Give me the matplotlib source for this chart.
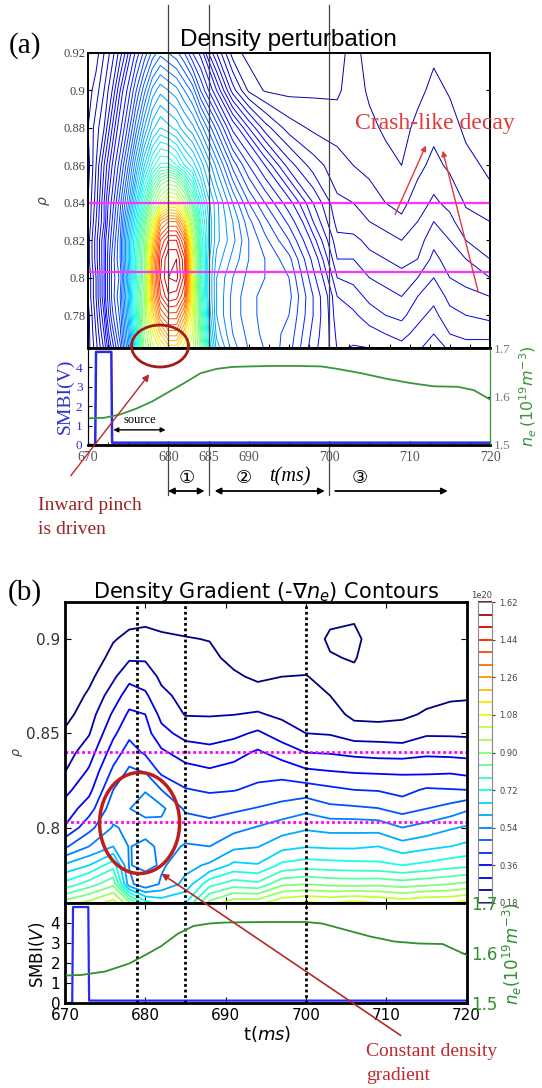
import numpy as np
import matplotlib
matplotlib.use('Agg')
import matplotlib.pyplot as plt
from matplotlib.patches import Ellipse, FancyArrowPatch
from matplotlib.transforms import blended_transform_factory

# ---------------- panel (a): density perturbation (arb. units) ----------------
ta = [670, 671, 672, 673, 674, 675, 676, 677, 678, 679, 680, 681, 682, 683, 684, 685, 686,
      688, 690, 692, 695, 698, 701, 703, 705, 707, 709, 711, 713, 715, 717, 720]
rho_a = [0.76, 0.77, 0.78, 0.79, 0.80, 0.81, 0.82, 0.83, 0.84, 0.86, 0.88, 0.90, 0.92]
# one list per time column, values from rho=0.76 up to 0.92
pert_cols = [
    [.035, .035, .035, .04, .04, .045, .045, .04, .04, .035, .04, .035, .03],
    [.055, .06, .065, .07, .07, .075, .075, .07, .065, .06, .055, .045, .035],
    [.08, .09, .10, .11, .11, .11, .11, .10, .10, .09, .07, .06, .05],
    [.12, .14, .16, .17, .17, .17, .16, .15, .14, .12, .10, .08, .065],
    [.17, .19, .20, .21, .20, .21, .21, .20, .19, .16, .13, .11, .085],
    [.25, .27, .29, .30, .29, .30, .30, .28, .25, .21, .17, .14, .11],
    [.36, .38, .40, .41, .40, .40, .39, .36, .33, .27, .22, .18, .14],
    [.50, .52, .53, .52, .50, .50, .49, .46, .41, .33, .27, .22, .17],
    [.58, .62, .68, .73, .75, .73, .68, .60, .50, .38, .31, .26, .20],
    [.62, .70, .80, .87, .90, .89, .85, .76, .58, .41, .33, .28, .22],
    [.66, .76, .84, .92, .95, .95, .90, .80, .64, .41, .32, .27, .21],
    [.66, .76, .84, .91, .96, .95, .90, .80, .63, .39, .31, .26, .20],
    [.62, .68, .76, .85, .89, .88, .82, .70, .55, .36, .29, .24, .18],
    [.58, .60, .62, .63, .62, .61, .58, .52, .45, .34, .275, .22, .15],
    [.50, .47, .45, .43, .42, .42, .41, .39, .37, .31, .25, .18, .13],
    [.37, .35, .33, .32, .32, .32, .33, .33, .32, .28, .22, .15, .10],
    [.30, .28, .27, .27, .27, .28, .29, .29, .29, .25, .19, .12, .08],
    [.25, .24, .235, .235, .24, .25, .26, .255, .24, .19, .13, .075, .045],
    [.225, .22, .215, .215, .22, .225, .225, .215, .195, .15, .10, .048, .036],
    [.21, .205, .205, .205, .21, .21, .20, .185, .165, .12, .075, .039, .034],
    [.185, .19, .195, .20, .195, .185, .165, .145, .125, .085, .055, .037, .033],
    [.14, .145, .15, .15, .14, .13, .115, .10, .09, .065, .048, .038, .034],
    [.11, .107, .103, .10, .09, .08, .073, .066, .062, .054, .046, .038, .035],
    [.112, .107, .102, .095, .087, .08, .073, .064, .06, .05, .048, .046, .045],
    [.112, .104, .095, .087, .08, .073, .067, .06, .055, .047, .043, .038, .034],
    [.11, .10, .09, .083, .077, .07, .063, .057, .05, .044, .038, .035, .032],
    [.105, .097, .087, .08, .073, .067, .06, .052, .047, .04, .036, .034, .032],
    [.11, .103, .097, .09, .08, .07, .065, .06, .055, .047, .043, .037, .034],
    [.113, .11, .103, .097, .09, .083, .077, .07, .062, .053, .047, .043, .038],
    [.11, .10, .093, .087, .08, .075, .07, .063, .057, .048, .044, .039, .035],
    [.107, .097, .09, .083, .077, .07, .06, .053, .049, .043, .038, .035, .033],
    [.107, .097, .087, .08, .07, .06, .053, .05, .043, .038, .036, .034, .032],
]

# ---------------- panel (b): -grad n_e (1e20 m^-4) ----------------
tb = [670, 673, 676, 678, 680, 682, 685, 688, 691, 694, 697, 700, 703, 706, 709, 712, 715, 718, 720]
rho_b = [0.76, 0.77, 0.78, 0.79, 0.80, 0.81, 0.82, 0.83, 0.84, 0.85, 0.86, 0.87, 0.88, 0.89, 0.90, 0.91, 0.92]
grad_cols = [
    [0.93, 0.74, 0.61, 0.47, 0.365, 0.324, 0.283, 0.238, 0.213, 0.189, 0.16, 0.14, 0.13, 0.12, 0.11, 0.10, 0.10],
    [0.98, 0.81, 0.66, 0.54, 0.46, 0.393, 0.342, 0.308, 0.271, 0.236, 0.213, 0.19, 0.165, 0.14, 0.12, 0.11, 0.10],
    [1.05, 0.885, 0.756, 0.60, 0.545, 0.515, 0.48, 0.432, 0.388, 0.347, 0.309, 0.268, 0.23, 0.20, 0.175, 0.15, 0.13],
    [0.92, 0.56, 0.535, 0.536, 0.53, 0.538, 0.51, 0.49, 0.447, 0.405, 0.371, 0.33, 0.282, 0.232, 0.195, 0.165, 0.14],
    [0.75, 0.49, 0.565, 0.565, 0.50, 0.575, 0.535, 0.475, 0.41, 0.384, 0.36, 0.31, 0.27, 0.233, 0.198, 0.17, 0.145],
    [0.70, 0.55, 0.53, 0.52, 0.52, 0.555, 0.48, 0.404, 0.37, 0.32, 0.282, 0.253, 0.229, 0.209, 0.189, 0.165, 0.14],
    [0.72, 0.62, 0.58, 0.545, 0.515, 0.47, 0.424, 0.381, 0.332, 0.278, 0.237, 0.223, 0.21, 0.197, 0.183, 0.16, 0.14],
    [0.92, 0.76, 0.61, 0.54, 0.50, 0.46, 0.412, 0.367, 0.319, 0.272, 0.236, 0.222, 0.207, 0.193, 0.178, 0.155, 0.135],
    [1.00, 0.81, 0.675, 0.585, 0.52, 0.47, 0.417, 0.381, 0.337, 0.284, 0.239, 0.214, 0.189, 0.165, 0.15, 0.135, 0.12],
    [1.00, 0.795, 0.665, 0.597, 0.544, 0.484, 0.434, 0.398, 0.368, 0.31, 0.246, 0.206, 0.17, 0.15, 0.13, 0.12, 0.11],
    [1.07, 0.885, 0.735, 0.64, 0.57, 0.50, 0.448, 0.396, 0.333, 0.27, 0.228, 0.204, 0.18, 0.16, 0.145, 0.13, 0.12],
    [1.09, 0.90, 0.751, 0.656, 0.591, 0.523, 0.449, 0.369, 0.298, 0.24, 0.221, 0.202, 0.182, 0.16, 0.145, 0.13, 0.12],
    [1.08, 0.885, 0.745, 0.65, 0.58, 0.495, 0.433, 0.36, 0.294, 0.235, 0.205, 0.18, 0.165, 0.175, 0.19, 0.17, 0.14],
    [1.10, 0.88, 0.74, 0.65, 0.58, 0.49, 0.42, 0.353, 0.283, 0.21, 0.165, 0.16, 0.165, 0.185, 0.20, 0.175, 0.15],
    [1.08, 0.885, 0.735, 0.66, 0.577, 0.482, 0.416, 0.35, 0.276, 0.21, 0.16, 0.15, 0.145, 0.14, 0.135, 0.13, 0.12],
    [1.06, 0.87, 0.72, 0.626, 0.54, 0.456, 0.40, 0.35, 0.273, 0.205, 0.17, 0.155, 0.145, 0.14, 0.135, 0.13, 0.12],
    [1.08, 0.885, 0.735, 0.645, 0.563, 0.48, 0.428, 0.345, 0.287, 0.232, 0.186, 0.165, 0.155, 0.145, 0.14, 0.13, 0.12],
    [1.08, 0.90, 0.756, 0.66, 0.593, 0.503, 0.423, 0.35, 0.282, 0.232, 0.197, 0.172, 0.16, 0.15, 0.14, 0.13, 0.12],
    [1.10, 0.915, 0.765, 0.675, 0.607, 0.53, 0.42, 0.34, 0.28, 0.23, 0.195, 0.175, 0.16, 0.15, 0.14, 0.13, 0.12],
]
grad_levels = [0.18, 0.24, 0.30, 0.36, 0.42, 0.48, 0.54, 0.60, 0.66, 0.72, 0.78, 0.84, 0.90,
               0.96, 1.02, 1.08, 1.14, 1.20, 1.26, 1.32, 1.38, 1.44, 1.50, 1.56, 1.62]
cbar_ticks = [0.18, 0.36, 0.54, 0.72, 0.90, 1.08, 1.26, 1.44, 1.62]

# ---------------- time traces ----------------
smbi_t = [670.0, 670.9, 671.0, 672.9, 673.0, 720.0]
smbi_v = [0.0, 0.0, 4.8, 4.8, 0.12, 0.12]
ne_t_a = [670, 672, 674, 676, 678, 680, 682, 684, 686, 688, 690, 693, 696, 699, 701, 704, 707, 710, 713, 716, 718, 720]
ne_a = [1.555, 1.556, 1.563, 1.575, 1.590, 1.609, 1.628, 1.648, 1.657, 1.661, 1.662, 1.663,
        1.663, 1.662, 1.657, 1.648, 1.637, 1.628, 1.621, 1.620, 1.613, 1.594]
ne_t_b = [670, 672, 675, 678, 680, 682, 684, 686, 688, 690, 695, 700, 702, 705, 708, 711, 714, 717, 720]
ne_b = [1.555, 1.556, 1.563, 1.579, 1.596, 1.614, 1.638, 1.654, 1.659, 1.661, 1.662, 1.662,
        1.659, 1.646, 1.633, 1.623, 1.619, 1.618, 1.596]

phase_a = [680, 685, 700]
phase_b = [679, 685, 700]
rho_marks = [0.84, 0.803]
ytick_a = [0.78, 0.80, 0.82, 0.84, 0.86, 0.88, 0.90, 0.92]
ytick_a_lab = ['0.78', '0.8', '0.82', '0.84', '0.86', '0.88', '0.9', '0.92']
xtick_a = [670, 680, 685, 690, 700, 710, 720]

SERIF = 'Liberation Serif'
W, H = 542, 1088


def fx(px):
    return px / W


def fy(py):
    return 1 - py / H


fig = plt.figure(figsize=(5.42, 10.88), dpi=100)

# ======================= (a) =======================
axa = fig.add_axes([fx(88), fy(348), fx(490) - fx(88), (348 - 53) / H])
Ta, Ra = np.meshgrid(ta, rho_a)
lev_a = np.unique(np.round(np.concatenate([np.arange(0.04, 0.115, 0.01),
                                           np.arange(0.12, 0.49, 0.015),
                                           np.arange(0.50, 0.99, 0.025)]), 4))
axa.contour(Ta, Ra, np.array(pert_cols).T, levels=lev_a,
            cmap='jet', vmin=0, vmax=1, linewidths=0.7)
for r in rho_marks:
    axa.axhline(r, color='#ff33ff', lw=1.6)
axa.set_xlim(670, 720)
axa.set_ylim(0.7625, 0.92)
axa.set_yticks(ytick_a)
axa.set_yticklabels(ytick_a_lab, family=SERIF, fontsize=9, color='#444444')
axa.set_xticks(np.arange(670, 721, 2.5))
axa.tick_params(axis='x', labelbottom=False, direction='in', length=3)
axa.tick_params(axis='y', direction='in', length=3, right=True, pad=2)
for s in axa.spines.values():
    s.set_linewidth(1.4)
axa.set_ylabel(r'$\rho$', fontsize=10, color='#444444')
axa.yaxis.set_label_coords(-0.09, 0.5)
fig.text(fx(288), fy(40), 'Density perturbation', family='Liberation Sans',
         fontsize=17.5, ha='center', va='center')
fig.text(fx(25), fy(46), '(a)', family=SERIF, fontsize=21, ha='center', va='center')

axa2 = fig.add_axes([fx(88), fy(445), fx(490) - fx(88), (445 - 348) / H])
axa2.plot(smbi_t, smbi_v, color='#2a2ae0', lw=1.8)
axa2.set_xlim(670, 720)
axa2.set_ylim(0, 5)
axa2.set_yticks([0, 1, 2, 3, 4])
axa2.set_yticklabels(['0', '1', '2', '3', '4'], family=SERIF, fontsize=9.5, color='#3030d0')
axa2.set_xticks(xtick_a)
axa2.set_xticklabels([str(v) for v in xtick_a], family=SERIF, fontsize=10, color='#555555')
axa2.set_xticks(np.arange(670, 721, 2.5), minor=True)
axa2.tick_params(direction='in', length=3, pad=4)
axa2.tick_params(which='minor', direction='in', length=2)
axa2.set_ylabel('SMBI(V)', family=SERIF, fontsize=14, color='#3030d0')
axa2.yaxis.set_label_coords(-0.035, 0.5)
axa2.spines['left'].set_color('#3030d0')
axa2.spines['top'].set_linewidth(2)
axa2.spines['bottom'].set_linewidth(2)
axa3 = axa2.twinx()
axa3.plot(ne_t_a, ne_a, color='#3a963a', lw=1.3)
axa3.set_ylim(1.5, 1.7)
axa3.set_yticks([1.5, 1.6, 1.7])
axa3.set_yticklabels(['1.5', '1.6', '1.7'], family=SERIF, fontsize=9.5, color='#777777')
axa3.tick_params(direction='in', length=3, pad=3)
axa3.spines['right'].set_color('#3a963a')
axa3.set_ylabel(r'$n_e\,(10^{19}m^{-3})$', fontsize=11.5, color='#3a963a')
axa3.yaxis.set_label_coords(1.07, 0.5)
axa2.annotate('', xy=(672.8, 0.78), xytext=(680.0, 0.78),
              arrowprops=dict(arrowstyle='<|-|>', color='black', lw=1, mutation_scale=7))
axa2.text(676.4, 1.0, 'source', family=SERIF, fontsize=9, ha='center', va='bottom')

# phase lines and arrows under (a)
tr_a = blended_transform_factory(axa.transData, fig.transFigure)
for t in phase_a:
    axa.plot([t, t], [fy(5), fy(495)], color='#444444', lw=0.9, transform=tr_a, clip_on=False)
arrow_y = fy(491)
for t0, t1, style in [(679.6, 684.85, '<|-|>'), (685.4, 699.8, '<|-|>'), (700.4, 715.1, '-|>')]:
    axa.annotate('', xy=(t1, arrow_y), xytext=(t0, arrow_y), xycoords=tr_a, textcoords=tr_a,
                 arrowprops=dict(arrowstyle=style, color='black', lw=1.3, mutation_scale=9))
for t, s in [(682.3, '\u2460'), (689.4, '\u2461'), (703.8, '\u2462')]:
    axa.text(t, fy(478), s, transform=tr_a, fontsize=13, ha='center', va='center',
             family=['DejaVu Sans', 'Noto Sans CJK SC'])
axa.text(695.1, fy(477), 't(ms)', transform=tr_a, family=SERIF, style='italic',
         fontsize=14.5, ha='center', va='center')

# red annotations (a)
fig.add_artist(Ellipse((fx(160), fy(346)), 57 / W, 42 / H, transform=fig.transFigure,
                       fill=False, ec='#a21c1c', lw=2))
fig.add_artist(FancyArrowPatch((fx(69), fy(478)), (fx(151), fy(372)), transform=fig.transFigure,
                               arrowstyle='-|>', mutation_scale=10, color='#b5292b', lw=1))
fig.text(fx(38), fy(506), 'Inward pinch', family=SERIF, fontsize=14, color='#9b2226',
         ha='left', va='center')
fig.text(fx(38), fy(530), 'is driven', family=SERIF, fontsize=14, color='#9b2226',
         ha='left', va='center')
fig.text(fx(435), fy(124), 'Crash-like decay', family=SERIF, fontsize=17, color='#e23a3a',
         ha='center', va='center')
for p0, p1 in [((394, 217), (427, 143)), ((479, 295), (442, 148))]:
    fig.add_artist(FancyArrowPatch((fx(p0[0]), fy(p0[1])), (fx(p1[0]), fy(p1[1])),
                                   transform=fig.transFigure, arrowstyle='-|>',
                                   mutation_scale=8, color='#e23a3a', lw=1))

# ======================= (b) =======================
axb = fig.add_axes([fx(65), fy(903), fx(466.6) - fx(65), (903 - 602) / H])
Tb, Rb = np.meshgrid(tb, rho_b)
grad = np.array(grad_cols).T
cs = axb.contour(Tb, Rb, grad * 1e20, levels=np.array(grad_levels) * 1e20,
                 cmap='jet', linewidths=1.3)
for r in rho_marks:
    axb.axhline(r, color='#ff00ff', lw=2, ls=(0, (1, 1)))
for t in phase_b:
    axb.axvline(t, color='black', lw=2, ls=(0, (1, 1)))
axb.set_xlim(670, 720)
axb.set_ylim(0.760, 0.9196)
axb.set_yticks([0.8, 0.85, 0.9])
axb.set_yticklabels(['0.8', '0.85', '0.9'], fontsize=11, color='#333333')
axb.set_xticks([670, 680, 690, 700, 710, 720])
axb.tick_params(direction='in', top=True, right=True, labelbottom=False, length=4)
for s in axb.spines.values():
    s.set_linewidth(2)
axb.set_ylabel(r'$\rho$', fontsize=9, color='#333333')
axb.yaxis.set_label_coords(-0.10, 0.5)
fig.text(fx(266), fy(592), r'Density Gradient (-$\nabla n_e$) Contours', fontsize=15,
         ha='center', va='center')
fig.text(fx(25), fy(593), '(b)', family=SERIF, fontsize=21, ha='center', va='center')

cax = fig.add_axes([fx(477.7), fy(903), 14 / W, (903 - 602) / H])
cb = fig.colorbar(cs, cax=cax, ticks=np.array(cbar_ticks) * 1e20)
cax.tick_params(labelsize=6, length=2, colors='#444444')
cax.yaxis.get_offset_text().set_fontsize(6)
cb.outline.set_edgecolor('#888888')

axb2 = fig.add_axes([fx(65), fy(1003), fx(466.6) - fx(65), (1003 - 903) / H])
axb2.plot(smbi_t, smbi_v, color='#2a2af0', lw=1.6)
for t in phase_b:
    axb2.axvline(t, color='black', lw=2, ls=(0, (1, 1)))
axb2.set_xlim(670, 720)
axb2.set_ylim(0, 5)
axb2.set_yticks([0, 1, 2, 3, 4])
axb2.tick_params(labelsize=11, direction='in', top=True, length=4)
axb2.set_xticks([670, 680, 690, 700, 710, 720])
axb2.set_ylabel(r'SMBI($V$)', fontsize=12)
axb2.yaxis.set_label_coords(-0.045, 0.48)
axb2.set_xlabel(r't($ms$)', fontsize=13)
axb2.xaxis.set_label_coords(0.503, -0.21)
for s in axb2.spines.values():
    s.set_linewidth(2)
axb3 = axb2.twinx()
axb3.plot(ne_t_b, ne_b, color='#2f8f2f', lw=1.3)
axb3.set_ylim(1.5, 1.7)
axb3.set_yticks([1.5, 1.6, 1.7])
axb3.tick_params(labelsize=12, labelcolor='#2f8f2f', direction='in', length=4)
axb3.set_ylabel(r'$n_e(10^{19}m^{-3})$', fontsize=12, color='#2f8f2f')
axb3.yaxis.set_label_coords(1.086, 0.5)

fig.add_artist(Ellipse((fx(139.6), fy(823)), 80 / W, 101 / H, transform=fig.transFigure,
                       fill=False, ec='#bf1d1d', lw=2.5))
fig.add_artist(FancyArrowPatch((fx(403), fy(1037)), (fx(159), fy(872)), transform=fig.transFigure,
                               arrowstyle='-|>', mutation_scale=10, color='#b5292b', lw=1.2))
fig.text(fx(366), fy(1052), 'Constant density', family=SERIF, fontsize=14, color='#c0282d',
         ha='left', va='center')
fig.text(fx(366), fy(1075), 'gradient', family=SERIF, fontsize=14, color='#c0282d',
         ha='left', va='center')

fig.savefig('out.png', dpi=100)
